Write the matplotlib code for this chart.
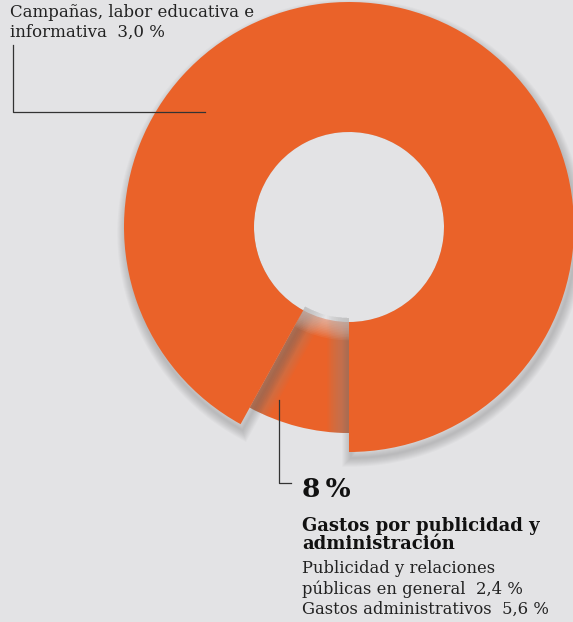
import matplotlib
matplotlib.use('Agg')
import matplotlib.pyplot as plt
import matplotlib.patches as mpatches

# Data
shares = [92, 8]
top_label = 'Campañas, labor educativa e\ninformativa  3,0 %'
small_total = '8\u2009%'
small_title = 'Gastos por publicidad y\nadministración'
small_detail = 'Publicidad y relaciones\npúblicas en general  2,4 %\nGastos administrativos  5,6 %'

bg = '#e3e3e5'
orange = '#ea6229'

W, H = 573, 622
fig = plt.figure(figsize=(W / 100, H / 100), dpi=100, facecolor=bg)
ax = fig.add_axes([0, 0, 1, 1])

center = (349, H - 227)
R_big, R_small, r_hole = 225, 206, 95

wedges, _ = ax.pie(shares, startangle=270, counterclock=True, center=center,
                   radius=R_big, colors=[orange, orange],
                   wedgeprops=dict(width=R_big - r_hole, linewidth=0), frame=True)
big, small = wedges
small.set_radius(R_small)
small.set_width(R_small - r_hole + 4)
small.set_zorder(1)
big.set_zorder(5)

# soft drop shadow of the big segment on the background
for k in range(9):
    sh = mpatches.Wedge((center[0] + 2, center[1] - 6), R_big, big.theta1, big.theta2,
                        width=R_big - r_hole, facecolor='none', edgecolor='black',
                        linewidth=1.4 * (k + 1), alpha=0.02, zorder=2)
    ax.add_patch(sh)
# keep the hole clean
ax.add_patch(mpatches.Circle(center, r_hole, facecolor=bg, edgecolor='none', zorder=2.5))

# greyish blurred shadow falling on the small segment
for k in range(12):
    sh = mpatches.Wedge(center, R_big, big.theta1, big.theta2,
                        width=R_big - r_hole, facecolor='none', edgecolor='#8e8e8e',
                        linewidth=2.6 * (k + 1), alpha=0.055, zorder=3)
    ax.add_patch(sh)
    sh.set_clip_path(small)
    hole = mpatches.Circle(center, r_hole, facecolor='none', edgecolor=bg,
                           linewidth=2.2 * (k + 1), alpha=0.07, zorder=3)
    ax.add_patch(hole)
    hole.set_clip_path(small)

ax.set_xlim(0, W)
ax.set_ylim(0, H)
ax.set_aspect('equal')
ax.axis('off')

# leader lines
ax.plot([13, 13, 205], [H - 45, H - 112, H - 112], color='#333333', lw=0.9, zorder=6)
ax.plot([279, 279, 291], [H - 400, H - 483, H - 483], color='#333333', lw=0.9, zorder=6)

serif = 'DejaVu Serif'
ax.text(10, H - 37, top_label, ha='left', va='baseline', fontsize=12, family=serif,
        color='#222222', linespacing=1.2, zorder=7)
ax.text(302, H - 497, small_total, ha='left', va='baseline', fontsize=19,
        fontweight='bold', family=serif, color='#111111', zorder=7)
ax.text(302, H - 549, small_title, ha='left', va='baseline', fontsize=13,
        fontweight='bold', family=serif, color='#111111', linespacing=1.0, zorder=7)
ax.text(302, H - 614, small_detail, ha='left', va='baseline', fontsize=11.8,
        family=serif, color='#222222', linespacing=1.25, zorder=7)

fig.savefig('out.png', dpi=100, facecolor=bg)
